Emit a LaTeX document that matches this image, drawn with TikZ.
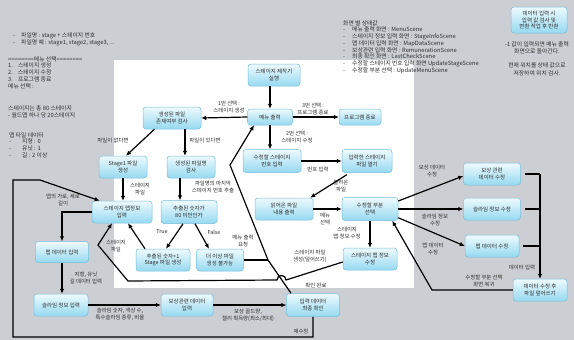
\documentclass[tikz,border=0pt]{standalone}
\usepackage{fontspec}
\setmainfont{Noto Sans CJK KR}
\usetikzlibrary{arrows.meta,calc}
\definecolor{bg}{RGB}{203,206,211}
\definecolor{boxtop}{RGB}{238,250,254}
\definecolor{boxbot}{RGB}{150,217,240}
\definecolor{boxline}{RGB}{120,190,220}
\definecolor{txt}{RGB}{45,45,45}
\begin{document}
\begin{tikzpicture}[x=1pt,y=-1pt,
  box/.style={draw=boxline, line width=0.5pt, rounded corners=3pt, top color=boxtop, bottom color=boxbot, align=center, inner sep=1pt, text=txt, font=\fontsize{5.5}{6.6}\selectfont},
  lbl/.style={align=center, inner sep=0pt, text=txt, font=\fontsize{5.4}{7}\selectfont},
  side/.style={align=left, inner sep=0pt, anchor=west, text=txt, font=\fontsize{5.8}{6.7}\selectfont},
  arr/.style={line width=1.2pt, -{Latex[length=5pt,width=4.6pt]}},
  ln/.style={line width=1.2pt},
]
\useasboundingbox (0,0) rectangle (574,340);
\fill[bg] (0,0) rectangle (574,340);
\fill[white] (114,60) rectangle (414,288);

% nodes
\node[box,minimum width=52pt,minimum height=22pt] (run) at (274,75) {스테이지 제작기\\실행};
\node[box,minimum width=45pt,minimum height=16pt] (menu) at (270,117) {메뉴 출력};
\node[box,minimum width=42pt,minimum height=16pt] (exit) at (360,117) {프로그램 종료};
\node[box,minimum width=58pt,minimum height=22pt] (exist) at (172,118) {생성된 파일\\존재여부 검사};
\node[box,minimum width=48pt,minimum height=22pt] (stage1) at (123,167) {Stage1 파일\\생성};
\node[box,minimum width=48pt,minimum height=22pt] (fname) at (191,167) {생성된 파일명\\검사};
\node[box,minimum width=60pt,minimum height=22pt] (mapinfo) at (122,212) {스테이지 맵정보\\입력};
\node[box,minimum width=56pt,minimum height=23pt] (lt80) at (189,212) {추출된 숫자가\\80 미만인가};
\node[box,minimum width=54pt,minimum height=22pt] (plus1) at (163,260) {추출된 숫자+1\\Stage 파일 생성};
\node[box,minimum width=47pt,minimum height=22pt] (nomore) at (220,260) {더 이상 파일\\생성 불가능};
\node[box,minimum width=58pt,minimum height=23pt] (selnum) at (272,161) {수정할 스테이지\\번호 입력};
\node[box,minimum width=50pt,minimum height=23pt] (open) at (367,161) {입력한 스테이지\\파일 열기};
\node[box,minimum width=58pt,minimum height=22pt] (read) at (284,209) {읽어온 파일\\내용 출력};
\node[box,minimum width=56pt,minimum height=23pt] (part) at (370,209) {수정할 부분\\선택};
\node[box,minimum width=54pt,minimum height=22pt] (modmap) at (370,259) {스테이지 맵 정보\\수정};
\node[box,minimum width=53pt,minimum height=23pt] (final) at (313,305) {입력 데이터\\최종 확인};
\node[box,minimum width=52pt,minimum height=22pt] (reward) at (187,305) {보상관련 데이터\\입력};
\node[box,minimum width=53pt,minimum height=21pt] (mapdata) at (62,252) {맵 데이터 입력};
\node[box,minimum width=54pt,minimum height=22pt] (slime) at (61,305) {슬라임 정보 입력};
\node[box,minimum width=57pt,minimum height=22pt] (modreward) at (492,174) {보상 관련\\데이터 수정};
\node[box,minimum width=57pt,minimum height=22pt] (modslime) at (492,209) {슬라임 정보 수정};
\node[box,minimum width=54pt,minimum height=22pt] (modmapdata) at (492,246) {맵 데이터 수정};
\node[box,minimum width=54pt,minimum height=22pt] (overwrite) at (540,290) {데이터 수정 후\\파일 덮어쓰기};
\node[box,minimum width=56pt,minimum height=26pt] (note) at (539,20) {데이터 입력 시\\입력 값 검사 및\\변환 작업 후 반환};

% side texts
\node[side] (t1) at (13,39.5) {\makebox[8pt][l]{-}파일명 : stage + 스테이지 번호\\\makebox[8pt][l]{-}파일명 예 : stage1, stage2, stage3, ...};
\node[side] (t2) at (8,72.5) {========메뉴 선택========\\1.\hspace{5pt}스테이지 생성\\2.\hspace{5pt}스테이지 수정\\3.\hspace{5pt}프로그램 종료\\메뉴 선택 :};
\node[side] (t3) at (8,112) {스테이지는 총 80 스테이지\\- 월드맵 하나 당 20스테이지};
\node[side] (t4) at (9,145) {맵 타일 데이터\\\makebox[13pt][l]{-}지형 : 0\\\makebox[13pt][l]{-}유닛 : 1\\\makebox[13pt][l]{-}길 : 2 이상};
\node[side] (t5) at (343,47) {화면 별 상태값\\\makebox[9pt][l]{-}메뉴 출력 화면 : MenuScene\\\makebox[9pt][l]{-}스테이지 정보 입력 화면 : StageInfoScene\\\makebox[9pt][l]{-}맵 데이터 입력 화면 : MapDataScene\\\makebox[9pt][l]{-}보상관련 입력 화면 : RemunerationScene\\\makebox[9pt][l]{-}최종 확인 화면 : LastCheckScene\\\makebox[9pt][l]{-}수정할 스테이지 번호 입력 화면 UpdateStageScene\\\makebox[9pt][l]{-}수정할 부분 선택 : UpdateMenuScene};
\node[lbl,font=\fontsize{5.8}{7.5}\selectfont] (t6) at (537,48) {-1 값이 입력되면 메뉴 출력\\화면으로 돌아간다.};
\node[lbl,font=\fontsize{5.8}{7.5}\selectfont] (t7) at (537,69.5) {현재 위치를 상태 값으로\\저장하여 위치 검사.};

% edge labels
\node[lbl] (l1) at (229,106.5) {1번 선택 :\\스테이지 생성};
\node[lbl] (l3) at (313,108.5) {3번 선택 :\\프로그램 종료};
\node[lbl] (l2) at (297,137) {2번 선택 :\\스테이지 수정};
\node[lbl] (lnum) at (318,169) {번호 입력};
\node[lbl] (lload) at (341,186) {불러온\\파일};
\node[lbl] (lmenu) at (325,219) {메뉴\\선택};
\node[lbl] (lsmi) at (347,233) {스테이지\\맵 정보 수정};
\node[lbl] (lgen) at (310,256) {스테이지 파일\\생성(덮어쓰기)};
\node[lbl] (lok) at (316,285) {확인 완료};
\node[lbl] (lreq) at (243,241) {메뉴 출력\\요청};
\node[lbl] (lno) at (113,140) {파일이 없다면};
\node[lbl] (lyes) at (205,140) {파일이 있다면};
\node[lbl] (lsf1) at (140,189) {스테이지\\파일};
\node[lbl] (lext) at (213,187) {파일명의 마지막\\스테이지 번호 추출};
\node[lbl] (ltrue) at (162,232) {True};
\node[lbl] (lfalse) at (214,232) {False};
\node[lbl] (lsf2) at (116,246) {스테이지\\파일};
\node[lbl] (lsize) at (63,200) {맵의 가로, 세로\\길이};
\node[lbl] (lterr) at (86,278) {지형, 유닛\\길 데이터 입력};
\node[lbl] (lslm) at (120,314) {슬라임 숫자, 색상 수,\\특수슬라임 종류, 비율};
\node[lbl] (lgold) at (248,315) {보상 골드량,\\젤리 획득량(최소/최대)};
\node[lbl] (lre) at (301,331) {재수정};
\node[lbl] (lmr) at (432,171) {보상 데이터\\수정};
\node[lbl] (lms) at (435,220) {슬라임 정보\\수정};
\node[lbl] (lmm) at (433,249) {맵 데이터\\수정};
\node[lbl] (ldin) at (522,267) {데이터 입력};
\node[lbl] (lback) at (484,281) {수정할 부분 선택\\화면 복귀};

% connectors
\draw[arr] (menu.north |- run.south) -- (menu.north);
\draw[arr] (menu.west) -- (exist.east);
\draw[arr] (menu.east) -- (exit.west);
\draw[arr] (menu.south) -- (menu.south |- selnum.north);
\draw[arr] ($(exist.south west)!0.2!(exist.south east)$) -- ([xshift=3pt]stage1.north);
\draw[arr] ([xshift=13pt]exist.south) -- ([xshift=-6pt]fname.north);
\draw[arr] (stage1.south) -- (mapinfo.north -| stage1.south);
\draw[arr] ([xshift=-11pt]fname.south) -- ([xshift=-9pt]lt80.north);
\draw[arr] ([xshift=-6pt]lt80.south) -- ([xshift=3pt]plus1.north);
\draw[arr] ([xshift=6pt]lt80.south) -- ([xshift=-11pt]nomore.north);
\draw[arr] ([xshift=-18pt]plus1.north) -- ([xshift=6pt]mapinfo.south);
\draw[arr] (selnum.east) -- (open.west);
\draw[arr] ([xshift=5pt,yshift=-2pt]open.south west) -- ([xshift=-3pt]read.north east);
\draw[arr] (read.east) -- (part.west);
\draw[arr] (part.south) -- (modmap.north);

\coordinate (J) at (268,260);
\coordinate (K) at (230,165);
\draw[arr] ([xshift=-22pt]final.north) -- (J) -- (K) -- ([xshift=-16pt]menu.south);
\draw[ln] (nomore.east) -- (J);

\coordinate (H1) at (286,280);
\coordinate (H2) at (277,280);
\coordinate (B2) at (128,281);
\coordinate (B3) at (98,245);
\draw[arr] ([yshift=-3pt]modmap.west) -- (H1) .. controls +(0,-6) and +(0,-6) .. (H2) -- (B2) -- (B3) -- ([xshift=-10pt]mapinfo.south);

\coordinate (R1) at (13,337);
\coordinate (R2) at (13,180);
\coordinate (R3) at (40,180);
\draw[arr] (final.south) |- (R1) -- (R2) -- (R3) -- ([xshift=8pt]mapinfo.north west);

\draw[arr] (mapinfo.west) -| (mapdata.north);
\draw[arr] (mapdata.south) -- (slime.north -| mapdata.south);
\draw[arr] (slime.east) -- (reward.west);
\draw[arr] (reward.east) -- (final.west);

\draw[arr] ([yshift=8pt]part.east) -- ([yshift=-2pt]modreward.west);
\draw[arr] (part.east) -- (modslime.west);
\draw[arr] ([yshift=3pt]part.south east) -- (modmapdata.west);
\draw[ln] ([xshift=4pt]modreward.east) -- (modreward.east -| overwrite.north);
\draw[ln] ([xshift=4pt]modslime.east) -- (modslime.east -| overwrite.north);
\draw[ln] ([xshift=4pt]modmapdata.east) -- (modmapdata.east -| overwrite.north);
\draw[arr] (modreward.east -| overwrite.north) -- (overwrite.north);
\coordinate (Q) at (432,290);
\draw[arr] (overwrite.west) -- (Q) -- ([xshift=-6pt]part.south east);
\end{tikzpicture}
\end{document}
